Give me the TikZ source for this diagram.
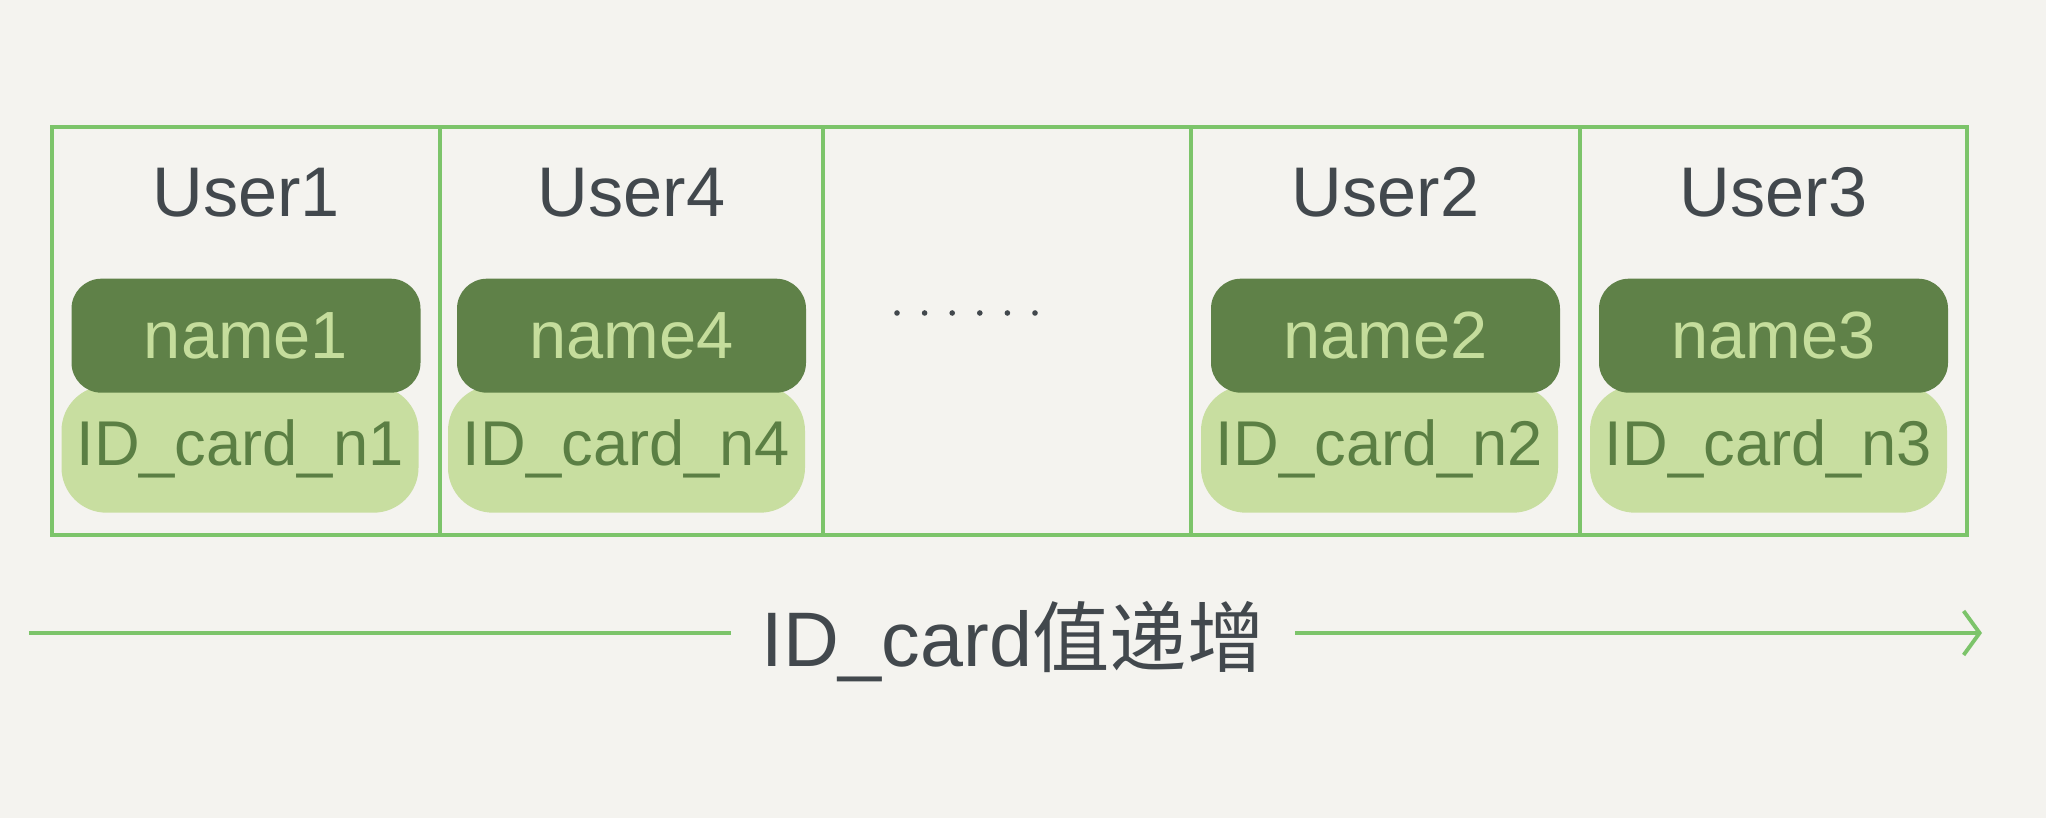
\documentclass[tikz,border=0pt]{standalone}
\usepackage{fontspec}
\setmainfont{Liberation Sans}
\newfontfamily\cjk{Noto Sans CJK SC}
\usepackage{xcolor}
\usepackage{tikz}
\usetikzlibrary{positioning,calc,arrows.meta}

\definecolor{paper}{HTML}{F4F3EF}
\definecolor{boxgreen}{HTML}{7CC46A}
\definecolor{darkleaf}{HTML}{5F8148}
\definecolor{lightleaf}{HTML}{C8DEA0}
\definecolor{paletext}{HTML}{C5DD9C}
\definecolor{inktext}{HTML}{5B7F44}
\definecolor{graytext}{HTML}{42484D}

\begin{document}
\begin{tikzpicture}[auto, node distance=1cm, >=latex]
    \tikzstyle{cell} = [draw=boxgreen, line width=1pt, rectangle, minimum height=4.08cm, outer sep=0pt, inner sep=0pt]
    \tikzstyle{user} = [text=graytext, inner sep=0pt, font=\fontsize{20}{20}\selectfont]
    \tikzstyle{namebox} = [fill=darkleaf, rounded corners=0.3cm, minimum width=3.49cm, minimum height=1.14cm, text=paletext, font=\fontsize{19}{19}\selectfont]
    \tikzstyle{idbox} = [fill=lightleaf, rounded corners=0.45cm, minimum width=3.57cm, minimum height=1.27cm, text=inktext, font=\fontsize{18}{18}\selectfont]
    \tikzstyle{axis} = [draw=boxgreen, line width=1.1pt]

    \fill[paper] (0,0) rectangle (20.46,-8.18);
    \useasboundingbox (0,0) rectangle (20.46,-8.18);

    % index pages, ordered by ID_card
    \node [cell, minimum width=3.88cm, anchor=north west] (c1) at (0.52,-1.27) {};
    \node [cell, minimum width=3.83cm, right=0pt of c1] (c2) {};
    \node [cell, minimum width=3.68cm, right=0pt of c2] (c3) {};
    \node [cell, minimum width=3.89cm, right=0pt of c3] (c4) {};
    \node [cell, minimum width=3.87cm, right=0pt of c4] (c5) {};

    \node [user, below=0.40cm of c1.north] (u1) {User1};
    \node [user, below=0.40cm of c2.north] (u4) {User4};
    \node [user, below=0.40cm of c4.north] (u2) {User2};
    \node [user, below=0.40cm of c5.north] (u3) {User3};

    % light pills first, dark pills lie on them
    \node [idbox, below=2.58cm of c1.north, xshift=-0.06cm] (id1) {ID\_card\_n1};
    \node [idbox, below=2.58cm of c2.north, xshift=-0.05cm] (id4) {ID\_card\_n4};
    \node [idbox, below=2.58cm of c4.north, xshift=-0.06cm] (id2) {ID\_card\_n2};
    \node [idbox, below=2.58cm of c5.north, xshift=-0.05cm] (id3) {ID\_card\_n3};

    \node [namebox, below=1.51cm of c1.north] (n1) {name1};
    \node [namebox, below=1.51cm of c2.north] (n4) {name4};
    \node [namebox, below=1.51cm of c4.north] (n2) {name2};
    \node [namebox, below=1.51cm of c5.north] (n3) {name3};

    % the gap
    \foreach \k in {0,...,5}
        \fill[graytext] ($(c3.center)+(-1.10+0.276*\k,0.18)$) circle (0.028);

    % direction of the index
    \node [text=graytext, inner xsep=0.3cm, font=\fontsize{22}{22}\selectfont] (order) at (10.13,-6.42) {ID\_card{\cjk 值递增}};
    \coordinate (start) at (0.29,-6.33);
    \coordinate (stop) at (19.82,-6.33);
    \draw [axis] (start) -- (start -| order.west);
    \draw [axis, -{Straight Barb[length=1.6mm, width=4.4mm]}] (stop -| order.east) -- (stop);
\end{tikzpicture}
\end{document}
